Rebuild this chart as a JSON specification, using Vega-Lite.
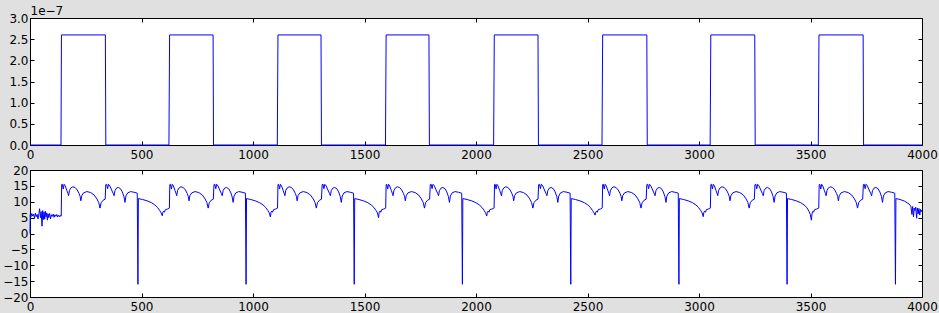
{
"$schema": "https://vega.github.io/schema/vega-lite/v6.json",
"background": "#e0e0e0",
"padding": {"left": 2, "top": 3, "right": 3, "bottom": 4},
"bounds": "flush",
"spacing": 25,
"datasets": {
"top": [
{"x":0,"y":0},{"x":139,"y":0},{"x":141,"y":2.6e-7},{"x":338,"y":2.6e-7},{"x":340,"y":0},
{"x":623,"y":0},{"x":626,"y":2.6e-7},{"x":821,"y":2.6e-7},{"x":823,"y":0},
{"x":1109,"y":0},{"x":1112,"y":2.6e-7},{"x":1305,"y":2.6e-7},{"x":1307,"y":0},
{"x":1594,"y":0},{"x":1597,"y":2.6e-7},{"x":1789,"y":2.6e-7},{"x":1791,"y":0},
{"x":2079,"y":0},{"x":2082,"y":2.6e-7},{"x":2278,"y":2.6e-7},{"x":2280,"y":0},
{"x":2565,"y":0},{"x":2568,"y":2.6e-7},{"x":2766,"y":2.6e-7},{"x":2768,"y":0},
{"x":3050,"y":0},{"x":3053,"y":2.6e-7},{"x":3250,"y":2.6e-7},{"x":3252,"y":0},
{"x":3535,"y":0},{"x":3538,"y":2.6e-7},{"x":3736,"y":2.6e-7},{"x":3738,"y":0},{"x":4000,"y":0}
],
"bottom": [
{"x":0,"y":0},{"x":1,"y":6.0},{"x":4,"y":5.2},{"x":8,"y":6.3},{"x":12,"y":5.5},{"x":16,"y":6.1},{"x":20,"y":4.8},{"x":24,"y":6.4},{"x":28,"y":5.3},{"x":32,"y":6.0},{"x":36,"y":4.6},{"x":40,"y":6.2},{"x":43,"y":7.8},{"x":47,"y":5.0},{"x":50,"y":6.9},{"x":54,"y":2.3},{"x":57,"y":7.2},{"x":60,"y":4.4},{"x":63,"y":6.8},{"x":66,"y":4.5},{"x":69,"y":7.0},{"x":72,"y":5.2},{"x":75,"y":6.5},{"x":78,"y":4.2},{"x":81,"y":6.2},{"x":84,"y":5.0},{"x":88,"y":6.3},{"x":92,"y":4.6},{"x":96,"y":5.9},{"x":100,"y":5.4},{"x":104,"y":6.1},{"x":108,"y":5.1},{"x":112,"y":5.9},{"x":116,"y":5.4},{"x":120,"y":6.0},{"x":124,"y":5.2},{"x":128,"y":5.8},{"x":132,"y":5.3},{"x":136,"y":5.7},{"x":138,"y":5.4},

{"x":140,"y":5.5},{"x":142,"y":15.4},{"x":145,"y":15.5},{"x":149,"y":14.0},{"x":153,"y":15.5},{"x":158,"y":15.0},{"x":165,"y":13.6},{"x":170,"y":12.6},{"x":173,"y":11.9},{"x":177,"y":13.6},{"x":184,"y":14.4},{"x":192,"y":14.7},{"x":202,"y":14.5},{"x":212,"y":13.7},{"x":220,"y":12.6},{"x":225,"y":11.6},{"x":228,"y":10.3},{"x":232,"y":11.9},{"x":240,"y":12.8},{"x":255,"y":13.2},{"x":272,"y":12.9},{"x":288,"y":12.1},{"x":300,"y":10.9},{"x":308,"y":9.8},{"x":314,"y":8.0},{"x":319,"y":9.7},{"x":328,"y":10.5},{"x":337,"y":10.8},{"x":340,"y":15.4},{"x":344,"y":15.5},{"x":348,"y":14.1},{"x":352,"y":15.5},{"x":358,"y":15.0},{"x":366,"y":13.7},{"x":373,"y":12.6},{"x":377,"y":11.9},{"x":381,"y":13.5},{"x":388,"y":14.3},{"x":396,"y":14.5},{"x":406,"y":14.1},{"x":414,"y":13.1},{"x":421,"y":11.7},{"x":426,"y":9.8},{"x":430,"y":11.8},{"x":438,"y":12.8},{"x":451,"y":13.2},{"x":466,"y":13.0},{"x":481,"y":12.7},{"x":484,"y":-16.0},{"x":486,"y":11.0},{"x":505,"y":10.7},{"x":525,"y":10.3},{"x":545,"y":9.7},{"x":560,"y":9.0},{"x":572,"y":8.2},{"x":582,"y":7.2},{"x":588,"y":6.5},{"x":593,"y":5.6},{"x":596,"y":6.7},{"x":600,"y":7.1},{"x":603,"y":6.7},{"x":607,"y":7.5},{"x":616,"y":7.7},{"x":623,"y":7.9},

{"x":625,"y":8.0},{"x":627,"y":15.4},{"x":630,"y":15.5},{"x":634,"y":14.0},{"x":638,"y":15.5},{"x":643,"y":15.0},{"x":650,"y":13.6},{"x":655,"y":12.6},{"x":658,"y":11.9},{"x":662,"y":13.6},{"x":669,"y":14.4},{"x":677,"y":14.7},{"x":687,"y":14.5},{"x":697,"y":13.7},{"x":705,"y":12.6},{"x":710,"y":11.6},{"x":713,"y":10.3},{"x":717,"y":11.9},{"x":725,"y":12.8},{"x":740,"y":13.2},{"x":757,"y":12.9},{"x":773,"y":12.1},{"x":785,"y":10.9},{"x":793,"y":9.8},{"x":799,"y":8.0},{"x":804,"y":9.7},{"x":813,"y":10.5},{"x":822,"y":10.8},{"x":825,"y":15.4},{"x":829,"y":15.5},{"x":833,"y":14.1},{"x":837,"y":15.5},{"x":843,"y":15.0},{"x":851,"y":13.7},{"x":858,"y":12.6},{"x":862,"y":11.9},{"x":866,"y":13.5},{"x":873,"y":14.3},{"x":881,"y":14.5},{"x":891,"y":14.1},{"x":899,"y":13.1},{"x":906,"y":11.7},{"x":911,"y":9.8},{"x":915,"y":11.8},{"x":923,"y":12.8},{"x":936,"y":13.2},{"x":951,"y":13.0},{"x":966,"y":12.7},{"x":969,"y":-16.0},{"x":971,"y":11.0},{"x":990,"y":10.7},{"x":1010,"y":10.3},{"x":1030,"y":9.7},{"x":1045,"y":9.0},{"x":1057,"y":8.2},{"x":1067,"y":7.2},{"x":1073,"y":6.5},{"x":1078,"y":5.2},{"x":1081,"y":6.7},{"x":1085,"y":7.1},{"x":1088,"y":6.7},{"x":1092,"y":7.5},{"x":1101,"y":7.7},{"x":1108,"y":7.9},

{"x":1110,"y":8.0},{"x":1112,"y":15.4},{"x":1115,"y":15.5},{"x":1119,"y":14.0},{"x":1123,"y":15.5},{"x":1128,"y":15.0},{"x":1135,"y":13.6},{"x":1140,"y":12.6},{"x":1143,"y":11.9},{"x":1147,"y":13.6},{"x":1154,"y":14.4},{"x":1162,"y":14.7},{"x":1172,"y":14.5},{"x":1182,"y":13.7},{"x":1190,"y":12.6},{"x":1195,"y":11.6},{"x":1198,"y":10.3},{"x":1202,"y":11.9},{"x":1210,"y":12.8},{"x":1225,"y":13.2},{"x":1242,"y":12.9},{"x":1258,"y":12.1},{"x":1270,"y":10.9},{"x":1278,"y":9.8},{"x":1284,"y":8.0},{"x":1289,"y":9.7},{"x":1298,"y":10.5},{"x":1307,"y":10.8},{"x":1310,"y":15.4},{"x":1314,"y":15.5},{"x":1318,"y":14.1},{"x":1322,"y":15.5},{"x":1328,"y":15.0},{"x":1336,"y":13.7},{"x":1343,"y":12.6},{"x":1347,"y":11.9},{"x":1351,"y":13.5},{"x":1358,"y":14.3},{"x":1366,"y":14.5},{"x":1376,"y":14.1},{"x":1384,"y":13.1},{"x":1391,"y":11.7},{"x":1396,"y":9.8},{"x":1400,"y":11.8},{"x":1408,"y":12.8},{"x":1421,"y":13.2},{"x":1436,"y":13.0},{"x":1451,"y":12.7},{"x":1454,"y":-16.0},{"x":1456,"y":11.0},{"x":1475,"y":10.7},{"x":1495,"y":10.3},{"x":1515,"y":9.7},{"x":1530,"y":9.0},{"x":1542,"y":8.2},{"x":1552,"y":7.2},{"x":1558,"y":6.5},{"x":1563,"y":5.0},{"x":1566,"y":6.7},{"x":1570,"y":7.1},{"x":1573,"y":6.7},{"x":1577,"y":7.5},{"x":1586,"y":7.7},{"x":1593,"y":7.9},

{"x":1595,"y":8.0},{"x":1597,"y":15.4},{"x":1600,"y":15.5},{"x":1604,"y":14.0},{"x":1608,"y":15.5},{"x":1613,"y":15.0},{"x":1620,"y":13.6},{"x":1625,"y":12.6},{"x":1628,"y":11.9},{"x":1632,"y":13.6},{"x":1639,"y":14.4},{"x":1647,"y":14.7},{"x":1657,"y":14.5},{"x":1667,"y":13.7},{"x":1675,"y":12.6},{"x":1680,"y":11.6},{"x":1683,"y":10.3},{"x":1687,"y":11.9},{"x":1695,"y":12.8},{"x":1710,"y":13.2},{"x":1727,"y":12.9},{"x":1743,"y":12.1},{"x":1755,"y":10.9},{"x":1763,"y":9.8},{"x":1769,"y":8.0},{"x":1774,"y":9.7},{"x":1783,"y":10.5},{"x":1792,"y":10.8},{"x":1795,"y":15.4},{"x":1799,"y":15.5},{"x":1803,"y":14.1},{"x":1807,"y":15.5},{"x":1813,"y":15.0},{"x":1821,"y":13.7},{"x":1828,"y":12.6},{"x":1832,"y":11.9},{"x":1836,"y":13.5},{"x":1843,"y":14.3},{"x":1851,"y":14.5},{"x":1861,"y":14.1},{"x":1869,"y":13.1},{"x":1876,"y":11.7},{"x":1881,"y":9.8},{"x":1885,"y":11.8},{"x":1893,"y":12.8},{"x":1906,"y":13.2},{"x":1921,"y":13.0},{"x":1936,"y":12.7},{"x":1939,"y":-16.0},{"x":1941,"y":11.0},{"x":1960,"y":10.7},{"x":1980,"y":10.3},{"x":2000,"y":9.7},{"x":2015,"y":9.0},{"x":2027,"y":8.2},{"x":2037,"y":7.2},{"x":2043,"y":6.5},{"x":2048,"y":5.5},{"x":2051,"y":6.7},{"x":2055,"y":7.1},{"x":2058,"y":6.7},{"x":2062,"y":7.5},{"x":2071,"y":7.7},{"x":2078,"y":7.9},

{"x":2081,"y":8.0},{"x":2083,"y":15.4},{"x":2086,"y":15.5},{"x":2090,"y":14.0},{"x":2094,"y":15.5},{"x":2099,"y":15.0},{"x":2106,"y":13.6},{"x":2111,"y":12.6},{"x":2114,"y":11.9},{"x":2118,"y":13.6},{"x":2125,"y":14.4},{"x":2133,"y":14.7},{"x":2143,"y":14.5},{"x":2153,"y":13.7},{"x":2161,"y":12.6},{"x":2166,"y":11.6},{"x":2169,"y":10.3},{"x":2173,"y":11.9},{"x":2181,"y":12.8},{"x":2196,"y":13.2},{"x":2213,"y":12.9},{"x":2229,"y":12.1},{"x":2241,"y":10.9},{"x":2249,"y":9.8},{"x":2255,"y":8.0},{"x":2260,"y":9.7},{"x":2269,"y":10.5},{"x":2278,"y":10.8},{"x":2281,"y":15.4},{"x":2285,"y":15.5},{"x":2289,"y":14.1},{"x":2293,"y":15.5},{"x":2299,"y":15.0},{"x":2307,"y":13.7},{"x":2314,"y":12.6},{"x":2318,"y":11.9},{"x":2322,"y":13.5},{"x":2329,"y":14.3},{"x":2337,"y":14.5},{"x":2347,"y":14.1},{"x":2355,"y":13.1},{"x":2362,"y":11.7},{"x":2367,"y":9.8},{"x":2371,"y":11.8},{"x":2379,"y":12.8},{"x":2392,"y":13.2},{"x":2407,"y":13.0},{"x":2422,"y":12.7},{"x":2425,"y":-16.0},{"x":2427,"y":11.0},{"x":2446,"y":10.7},{"x":2466,"y":10.3},{"x":2486,"y":9.7},{"x":2501,"y":9.0},{"x":2513,"y":8.2},{"x":2523,"y":7.2},{"x":2529,"y":6.5},{"x":2534,"y":5.8},{"x":2537,"y":6.7},{"x":2541,"y":7.1},{"x":2544,"y":6.7},{"x":2548,"y":7.5},{"x":2557,"y":7.7},{"x":2564,"y":7.9},

{"x":2566,"y":8.0},{"x":2568,"y":15.4},{"x":2571,"y":15.5},{"x":2575,"y":14.0},{"x":2579,"y":15.5},{"x":2584,"y":15.0},{"x":2591,"y":13.6},{"x":2596,"y":12.6},{"x":2599,"y":11.9},{"x":2603,"y":13.6},{"x":2610,"y":14.4},{"x":2618,"y":14.7},{"x":2628,"y":14.5},{"x":2638,"y":13.7},{"x":2646,"y":12.6},{"x":2651,"y":11.6},{"x":2654,"y":10.3},{"x":2658,"y":11.9},{"x":2666,"y":12.8},{"x":2681,"y":13.2},{"x":2698,"y":12.9},{"x":2714,"y":12.1},{"x":2726,"y":10.9},{"x":2734,"y":9.8},{"x":2740,"y":8.0},{"x":2745,"y":9.7},{"x":2754,"y":10.5},{"x":2763,"y":10.8},{"x":2766,"y":15.4},{"x":2770,"y":15.5},{"x":2774,"y":14.1},{"x":2778,"y":15.5},{"x":2784,"y":15.0},{"x":2792,"y":13.7},{"x":2799,"y":12.6},{"x":2803,"y":11.9},{"x":2807,"y":13.5},{"x":2814,"y":14.3},{"x":2822,"y":14.5},{"x":2832,"y":14.1},{"x":2840,"y":13.1},{"x":2847,"y":11.7},{"x":2852,"y":9.8},{"x":2856,"y":11.8},{"x":2864,"y":12.8},{"x":2877,"y":13.2},{"x":2892,"y":13.0},{"x":2907,"y":12.7},{"x":2910,"y":-16.0},{"x":2912,"y":11.0},{"x":2931,"y":10.7},{"x":2951,"y":10.3},{"x":2971,"y":9.7},{"x":2986,"y":9.0},{"x":2998,"y":8.2},{"x":3008,"y":7.2},{"x":3014,"y":6.5},{"x":3019,"y":5.3},{"x":3022,"y":6.7},{"x":3026,"y":7.1},{"x":3029,"y":6.7},{"x":3033,"y":7.5},{"x":3042,"y":7.7},{"x":3049,"y":7.9},

{"x":3051,"y":8.0},{"x":3053,"y":15.4},{"x":3056,"y":15.5},{"x":3060,"y":14.0},{"x":3064,"y":15.5},{"x":3069,"y":15.0},{"x":3076,"y":13.6},{"x":3081,"y":12.6},{"x":3084,"y":11.9},{"x":3088,"y":13.6},{"x":3095,"y":14.4},{"x":3103,"y":14.7},{"x":3113,"y":14.5},{"x":3123,"y":13.7},{"x":3131,"y":12.6},{"x":3136,"y":11.6},{"x":3139,"y":10.3},{"x":3143,"y":11.9},{"x":3151,"y":12.8},{"x":3166,"y":13.2},{"x":3183,"y":12.9},{"x":3199,"y":12.1},{"x":3211,"y":10.9},{"x":3219,"y":9.8},{"x":3225,"y":8.0},{"x":3230,"y":9.7},{"x":3239,"y":10.5},{"x":3248,"y":10.8},{"x":3251,"y":15.4},{"x":3255,"y":15.5},{"x":3259,"y":14.1},{"x":3263,"y":15.5},{"x":3269,"y":15.0},{"x":3277,"y":13.7},{"x":3284,"y":12.6},{"x":3288,"y":11.9},{"x":3292,"y":13.5},{"x":3299,"y":14.3},{"x":3307,"y":14.5},{"x":3317,"y":14.1},{"x":3325,"y":13.1},{"x":3332,"y":11.7},{"x":3337,"y":9.8},{"x":3341,"y":11.8},{"x":3349,"y":12.8},{"x":3362,"y":13.2},{"x":3377,"y":13.0},{"x":3392,"y":12.7},{"x":3395,"y":-16.0},{"x":3397,"y":11.0},{"x":3416,"y":10.7},{"x":3436,"y":10.3},{"x":3456,"y":9.7},{"x":3471,"y":9.0},{"x":3483,"y":8.2},{"x":3493,"y":7.0},{"x":3499,"y":6.0},{"x":3504,"y":4.2},{"x":3507,"y":6.4},{"x":3511,"y":7.0},{"x":3514,"y":6.7},{"x":3518,"y":7.5},{"x":3527,"y":7.7},{"x":3534,"y":7.9},

{"x":3537,"y":8.0},{"x":3539,"y":15.4},{"x":3542,"y":15.5},{"x":3546,"y":14.0},{"x":3550,"y":15.5},{"x":3555,"y":15.0},{"x":3562,"y":13.6},{"x":3567,"y":12.6},{"x":3570,"y":11.9},{"x":3574,"y":13.6},{"x":3581,"y":14.4},{"x":3589,"y":14.7},{"x":3599,"y":14.5},{"x":3609,"y":13.7},{"x":3617,"y":12.6},{"x":3622,"y":11.6},{"x":3625,"y":10.3},{"x":3629,"y":11.9},{"x":3637,"y":12.8},{"x":3652,"y":13.2},{"x":3669,"y":12.9},{"x":3685,"y":12.1},{"x":3697,"y":10.9},{"x":3705,"y":9.8},{"x":3711,"y":8.0},{"x":3716,"y":9.7},{"x":3725,"y":10.5},{"x":3734,"y":10.8},{"x":3737,"y":15.4},{"x":3741,"y":15.5},{"x":3745,"y":14.1},{"x":3749,"y":15.5},{"x":3755,"y":15.0},{"x":3763,"y":13.7},{"x":3770,"y":12.6},{"x":3774,"y":11.9},{"x":3778,"y":13.5},{"x":3785,"y":14.3},{"x":3793,"y":14.5},{"x":3803,"y":14.1},{"x":3811,"y":13.1},{"x":3818,"y":11.7},{"x":3823,"y":9.8},{"x":3827,"y":11.8},{"x":3835,"y":12.8},{"x":3848,"y":13.2},{"x":3863,"y":13.0},{"x":3878,"y":12.7},{"x":3881,"y":-16.0},{"x":3883,"y":11.0},{"x":3902,"y":10.7},{"x":3922,"y":10.2},{"x":3942,"y":9.3},
{"x":3950,"y":8.6},{"x":3955,"y":6.0},{"x":3958,"y":8.5},{"x":3962,"y":5.2},{"x":3965,"y":8.0},{"x":3968,"y":7.2},{"x":3972,"y":8.3},{"x":3976,"y":4.8},{"x":3979,"y":8.0},{"x":3983,"y":6.2},{"x":3986,"y":7.9},{"x":3990,"y":5.8},{"x":3993,"y":7.6},{"x":3996,"y":6.8},{"x":4000,"y":7.4}
]
},
"vconcat": [
{
"width": 892, "height": 127,
"data": {"name": "top"},
"layer": [
{"mark": {"type": "line", "color": "#0000ff", "strokeWidth": 1},
 "encoding": {
  "x": {"field": "x", "type": "quantitative", "scale": {"domain": [0, 4000], "nice": false, "zero": false},
        "axis": {"orient": "bottom", "title": null, "format": "d", "values": [0,500,1000,1500,2000,2500,3000,3500,4000]}},
  "y": {"field": "y", "type": "quantitative", "scale": {"domain": [0, 3e-7], "nice": false, "zero": false},
        "axis": {"orient": "left", "labelPadding": 6, "values": [0,5e-8,1e-7,1.5e-7,2e-7,2.5e-7,3e-7], "labelExpr": "format(datum.value*1e7, '.1f')",
                 "title": "1e\u22127", "titleAngle": 0, "titleAlign": "left", "titleBaseline": "alphabetic", "titleX": 0, "titleY": -4}}
 }},
{"mark": {"type": "line", "opacity": 0},
 "encoding": {
  "x": {"field": "x", "type": "quantitative", "axis": {"orient": "top", "title": null, "labels": false, "values": [0,500,1000,1500,2000,2500,3000,3500,4000]}},
  "y": {"field": "y", "type": "quantitative", "axis": {"orient": "right", "title": null, "labels": false, "values": [0,5e-8,1e-7,1.5e-7,2e-7,2.5e-7,3e-7]}}
 }}
],
"resolve": {"axis": {"x": "independent", "y": "independent"}}
},
{
"width": 892, "height": 127,
"data": {"name": "bottom"},
"layer": [
{"mark": {"type": "line", "color": "#0000ff", "strokeWidth": 1},
 "encoding": {
  "x": {"field": "x", "type": "quantitative", "scale": {"domain": [0, 4000], "nice": false, "zero": false},
        "axis": {"orient": "bottom", "title": null, "format": "d", "values": [0,500,1000,1500,2000,2500,3000,3500,4000]}},
  "y": {"field": "y", "type": "quantitative", "scale": {"domain": [-20, 20], "nice": false, "zero": false},
        "axis": {"orient": "left", "title": null, "labelPadding": 6, "values": [-20,-15,-10,-5,0,5,10,15,20]}}
 }},
{"mark": {"type": "line", "opacity": 0},
 "encoding": {
  "x": {"field": "x", "type": "quantitative", "axis": {"orient": "top", "title": null, "labels": false, "values": [0,500,1000,1500,2000,2500,3000,3500,4000]}},
  "y": {"field": "y", "type": "quantitative", "axis": {"orient": "right", "title": null, "labels": false, "values": [-20,-15,-10,-5,0,5,10,15,20]}}
 }}
],
"resolve": {"axis": {"x": "independent", "y": "independent"}}
}
],
"config": {
"view": {"stroke": "#000000", "strokeWidth": 1, "fill": "#ffffff"},
"axis": {"domain": false, "grid": false, "ticks": true, "tickColor": "#000000", "tickSize": -4, "tickWidth": 1,
         "labelFont": "DejaVu Sans", "labelFontSize": 12, "labelColor": "#000000", "labelPadding": 8,
         "labelFlush": false, "labelOverlap": false, "labelBound": false,
         "titleFont": "DejaVu Sans", "titleFontSize": 12, "titleColor": "#000000", "titleFontWeight": "normal"}
}
}
